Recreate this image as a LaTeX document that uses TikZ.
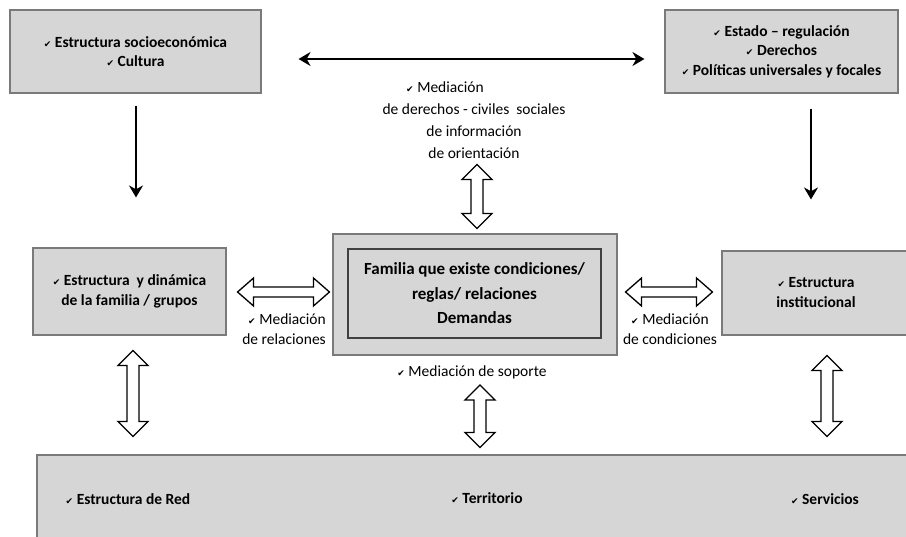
\documentclass[tikz,border=0pt]{standalone}
\usepackage{fontspec}
\setmainfont{Carlito}
\newfontfamily\dejavu{DejaVu Sans}
\usetikzlibrary{calc,shadows,arrows.meta}
\newcommand\chk{{\dejavu\fontsize{9}{9}\selectfont ✔}}
\definecolor{boxgray}{HTML}{D6D6D6}
\definecolor{edgegray}{HTML}{7A7A7A}
\tikzset{
  box/.style={rectangle, fill=boxgray, draw=edgegray, line width=1.1pt,
    drop shadow={shadow xshift=1.2pt, shadow yshift=-1.2pt, opacity=0.35},
    inner sep=0pt, align=center},
  boxtext/.style={font=\bfseries\fontsize{15.5}{19.5}\selectfont, inner sep=0pt},
  lbl/.style={align=center, font=\fontsize{15.5}{20}\selectfont, inner sep=0pt},
  blk/.style={line width=2.8pt, {Stealth[length=12pt,width=14pt]}-{Stealth[length=12pt,width=14pt]}},
  blkdown/.style={line width=2.8pt, -{Stealth[length=12pt,width=14pt]}},
  hol/.style={draw=black, line width=1.3pt, fill=white, line join=miter},
}
% vertical hollow double arrow between two tip points (y grows downward)
\newcommand\holV[2]{%
  \draw[hol] (#1) -- ($(#1)+(-15,15)$) -- ($(#1)+(-6,15)$) -- ($(#2)+(-6,-15)$)
    -- ($(#2)+(-15,-15)$) -- (#2) -- ($(#2)+(15,-15)$) -- ($(#2)+(6,-15)$)
    -- ($(#1)+(6,15)$) -- ($(#1)+(15,15)$) -- cycle;}
% horizontal hollow double arrow between two tip points
\newcommand\holH[2]{%
  \draw[hol] (#1) -- ($(#1)+(16,-14)$) -- ($(#1)+(16,-5)$) -- ($(#2)+(-16,-5)$)
    -- ($(#2)+(-16,-14)$) -- (#2) -- ($(#2)+(-16,14)$) -- ($(#2)+(-16,5)$)
    -- ($(#1)+(16,5)$) -- ($(#1)+(16,14)$) -- cycle;}
\begin{document}
\begin{tikzpicture}[x=1pt,y=-1pt]
\useasboundingbox (0,0) rectangle (906,537);
\clip (0,0) rectangle (906,537);

% boxes
\node[box, boxtext, minimum width=251pt, minimum height=83pt] (tl) at (135.5,51.5)
  {\chk\ Estructura socioeconómica\\ \chk\ Cultura};
\node[box, boxtext, minimum width=233pt, minimum height=83pt] (tr) at (781.5,51.5)
  {\chk\ Estado -- regulación\\ \chk\ Derechos\\ \chk\ Políticas universales y focales};
\node[box, boxtext, minimum width=193pt, minimum height=87pt] (ml) at (129.5,291.5)
  {\chk\ Estructura \ y dinámica\\ de la familia / grupos};
\node[box, minimum width=284pt, minimum height=121pt] (mc) at (475,294.5) {};
\node[rectangle, fill=boxgray, draw=black!75, line width=1.1pt, inner sep=0pt,
  minimum width=253pt, minimum height=89pt, align=center,
  font=\bfseries\fontsize{17}{24.5}\selectfont] (mci) at (474.5,293.5)
  {Familia que existe condiciones/\\ reglas/ relaciones\\ Demandas};
\node[box, minimum width=188pt, minimum height=84pt] (mr) at (816,293) {};
\node[boxtext, align=center] (mrt) at (816,292.5) {\chk\ Estructura\\ institucional};
\node[box, minimum width=883pt, minimum height=110pt] (bt) at (478.5,510) {};
\node[boxtext] (b1) at (128,499) {\chk\ Estructura de Red};
\node[boxtext] (b2) at (487,498) {\chk\ Territorio};
\node[boxtext] (b3) at (825,499) {\chk\ Servicios};

% labels
\node[lbl] (m1) at (445,87) {\chk\ Mediación};
\node[lbl, anchor=north, font=\fontsize{15.5}{22}\selectfont] (m2) at (474,104)
  {de derechos - civiles \ sociales\\ de información\\ de orientación};
\node[lbl, align=right, anchor=north east] (mrel) at (326,314) {\chk\ Mediación\\ de relaciones};
\node[lbl, anchor=north] (mcon) at (670,314) {\chk\ Mediación\\ de condiciones};
\node[lbl] (msop) at (472,372) {\chk\ Mediación de soporte};

% black arrows
\draw[blk] ($(tl.east)+(37,7.5)$) -- ($(tr.west)+(-20,7.5)$);
\draw[blkdown] ($(tl.south)+(0.5,12)$) -- ($(ml.north)+(6.5,-50)$);
\draw[blkdown] ($(tr.south)+(29.5,15)$) -- ($(mr.north)+(-5,-51)$);

% hollow arrows
\coordinate (v1a) at ($(mc.north)+(2,-69)$);
\coordinate (v1b) at ($(mc.north)+(2,-5)$);
\holV{v1a}{v1b}
\coordinate (h1a) at ($(ml.east)+(11,0.5)$);
\coordinate (h1b) at ($(mc.west)+(-3,-2.5)$);
\holH{h1a}{h1b}
\coordinate (h2a) at ($(mc.east)+(8,-2.5)$);
\coordinate (h2b) at ($(mr.west)+(-9,-1)$);
\holH{h2a}{h2b}
\coordinate (v2a) at ($(ml.south)+(3.5,15)$);
\coordinate (v2b) at ($(bt.north)+(-345.5,-18)$);
\holV{v2a}{v2b}
\coordinate (v3a) at ($(msop)+(8,13)$);
\coordinate (v3b) at ($(bt.north)+(1.5,-7)$);
\holV{v3a}{v3b}
\coordinate (v4a) at ($(mr.south)+(11,20)$);
\coordinate (v4b) at ($(bt.north)+(348.5,-18)$);
\holV{v4a}{v4b}
\end{tikzpicture}
\end{document}
